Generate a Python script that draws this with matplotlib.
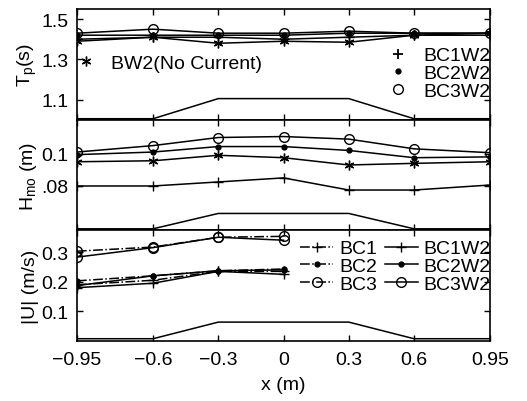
import matplotlib
matplotlib.use("Agg")
import matplotlib.pyplot as plt
import numpy as np

plt.rcParams['font.family'] = ['Liberation Sans', 'DejaVu Sans']
plt.rcParams['mathtext.fontset'] = 'custom'
plt.rcParams['mathtext.rm'] = 'Liberation Sans'
plt.rcParams['mathtext.it'] = 'Liberation Sans'

# stations along the flume
x = [-0.95, -0.6, -0.3, 0.0, 0.3, 0.6, 0.95]
xu = [-0.95, -0.6, -0.3, 0.0]

# peak period Tp (s)
tp_bw2 = [1.39, 1.41, 1.38, 1.39, 1.385, 1.42, 1.43]
tp_bc1w2 = [1.40, 1.41, 1.41, 1.40, 1.41, 1.42, 1.42]
tp_bc2w2 = [1.42, 1.42, 1.42, 1.42, 1.43, 1.43, 1.43]
tp_bc3w2 = [1.43, 1.45, 1.43, 1.43, 1.44, 1.43, 1.43]

# wave height Hmo (m)
h_bw2 = [0.095, 0.0956, 0.099, 0.0975, 0.093, 0.094, 0.095]
h_bc1w2 = [0.080, 0.080, 0.0825, 0.085, 0.0775, 0.0775, 0.0806]
h_bc2w2 = [0.0994, 0.101, 0.1044, 0.1044, 0.102, 0.0975, 0.098]
h_bc3w2 = [0.101, 0.105, 0.110, 0.1106, 0.109, 0.103, 0.1006]

# current speed |U| (m/s)
u_bc1 = [0.19, 0.205, 0.235, 0.235]
u_bc2 = [0.203, 0.22, 0.237, 0.243]
u_bc3 = [0.303, 0.317, 0.35, 0.353]
u_bc1w2 = [0.18, 0.195, 0.235, 0.225]
u_bc2w2 = [0.187, 0.22, 0.237, 0.24]
u_bc3w2 = [0.283, 0.315, 0.35, 0.34]

# bar profile (scaled to each panel)
xb = [-0.95, -0.6, -0.3, 0.3, 0.6, 0.95]
bar_top = [1.005, 1.005, 1.105, 1.105, 1.005, 1.005]
bar_mid = [0.0535, 0.0535, 0.063, 0.063, 0.0535, 0.0535]
bar_bot = [0.008, 0.008, 0.064, 0.064, 0.008, 0.008]

star = (6, 2, 0)
lw = 1.1
ms = 7

fig = plt.figure(figsize=(5.27, 4.02), dpi=100)
gs = fig.add_gridspec(3, 1, left=0.146, right=0.930, top=0.975, bottom=0.149, hspace=0)
ax1 = fig.add_subplot(gs[0])
ax2 = fig.add_subplot(gs[1], sharex=ax1)
ax3 = fig.add_subplot(gs[2], sharex=ax1)

# top panel
ax1.plot(xb, bar_top, 'k-', lw=lw)
ax1.plot(x, tp_bw2, 'k-', marker=star, ms=ms, mew=1.0, lw=lw)
ax1.plot(x, tp_bc1w2, 'k-', marker='+', ms=ms, lw=lw)
ax1.plot(x, tp_bc2w2, 'k-', marker='.', ms=ms, lw=lw)
ax1.plot(x, tp_bc3w2, 'k-', marker='o', mfc='none', ms=ms, lw=lw)
ax1.set_ylim(1.0, 1.55)
ax1.set_yticks([1.1, 1.3, 1.5])
ax1.set_yticklabels(['1.1', '1.3', '1.5'])
ax1.set_ylabel('T$_\\mathrm{p}$(s)', fontsize=14, labelpad=2)

h_star, = ax1.plot([], [], 'k', ls='none', marker=star, ms=ms)
leg_a = ax1.legend([h_star], ['BW2(No Current)'], loc='upper left', bbox_to_anchor=(-0.02, 0.66),
                   frameon=False, fontsize=14, handlelength=1.0, handletextpad=0.8,
                   borderaxespad=0)
ax1.add_artist(leg_a)
h_p, = ax1.plot([], [], 'k', ls='none', marker='+', ms=ms, mew=1.3)
h_d, = ax1.plot([], [], 'k', ls='none', marker='.', ms=ms)
h_o, = ax1.plot([], [], 'k', ls='none', marker='o', mfc='none', ms=ms)
ax1.legend([h_p, h_d, h_o], ['BC1W2', 'BC2W2', 'BC3W2'], loc='upper right',
           bbox_to_anchor=(1.02, 0.73), frameon=False, fontsize=14, handlelength=1.0,
           handletextpad=0.8, labelspacing=0.0, borderaxespad=0)

# middle panel
ax2.plot(xb, bar_mid, 'k-', lw=lw)
ax2.plot(x, h_bw2, 'k-', marker=star, ms=ms, mew=1.0, lw=lw)
ax2.plot(x, h_bc1w2, 'k-', marker='+', ms=ms, lw=lw)
ax2.plot(x, h_bc2w2, 'k-', marker='.', ms=ms, lw=lw)
ax2.plot(x, h_bc3w2, 'k-', marker='o', mfc='none', ms=ms, lw=lw)
ax2.set_ylim(0.0525, 0.121)
ax2.set_yticks([0.08, 0.1])
ax2.set_yticklabels(['.08', '0.1'])
ax2.set_ylabel('H$_\\mathrm{mo}$ (m)', fontsize=14, labelpad=2)

# bottom panel
ax3.plot(xb, bar_bot, 'k-', lw=lw)
l1, = ax3.plot(xu, u_bc1, 'k-.', marker='+', ms=ms, lw=lw)
l2, = ax3.plot(xu, u_bc2, 'k-.', marker='.', ms=ms, lw=lw)
l3, = ax3.plot(xu, u_bc3, 'k-.', marker='o', mfc='none', ms=ms, lw=lw)
l4, = ax3.plot(xu, u_bc1w2, 'k-', marker='+', ms=ms, lw=lw)
l5, = ax3.plot(xu, u_bc2w2, 'k-', marker='.', ms=ms, lw=lw)
l6, = ax3.plot(xu, u_bc3w2, 'k-', marker='o', mfc='none', ms=ms, lw=lw)
ax3.set_ylim(0.0, 0.373)
ax3.set_yticks([0.1, 0.2, 0.3])
ax3.set_yticklabels(['0.1', '0.2', '0.3'])
ax3.set_ylabel('|U| (m/s)', fontsize=14, labelpad=2)
ax3.legend([l1, l2, l3, l4, l5, l6], ['BC1', 'BC2', 'BC3', 'BC1W2', 'BC2W2', 'BC3W2'],
           ncol=2, loc='upper right', bbox_to_anchor=(1.02, 0.985), frameon=False,
           fontsize=14, handlelength=1.7, handletextpad=0.3, labelspacing=0.0,
           columnspacing=0.4, borderaxespad=0)

ax3.set_xlim(-0.95, 0.95)
ax3.set_xticks(x)
ax3.set_xticklabels(['\u22120.95', '\u22120.6', '\u22120.3', '0', '0.3', '0.6', '0.95'])
ax3.set_xlabel('x (m)', fontsize=14, labelpad=6)

for ax in (ax1, ax2, ax3):
    ax.tick_params(direction='in', top=True, right=True, labelsize=14, length=4, width=1)
    ax.tick_params(axis='y', pad=6)
    ax.tick_params(axis='x', pad=7)
    for s in ax.spines.values():
        s.set_linewidth(1.2)
for ax in (ax1, ax2):
    ax.tick_params(labelbottom=False)

fig.savefig('out.png', dpi=100)
